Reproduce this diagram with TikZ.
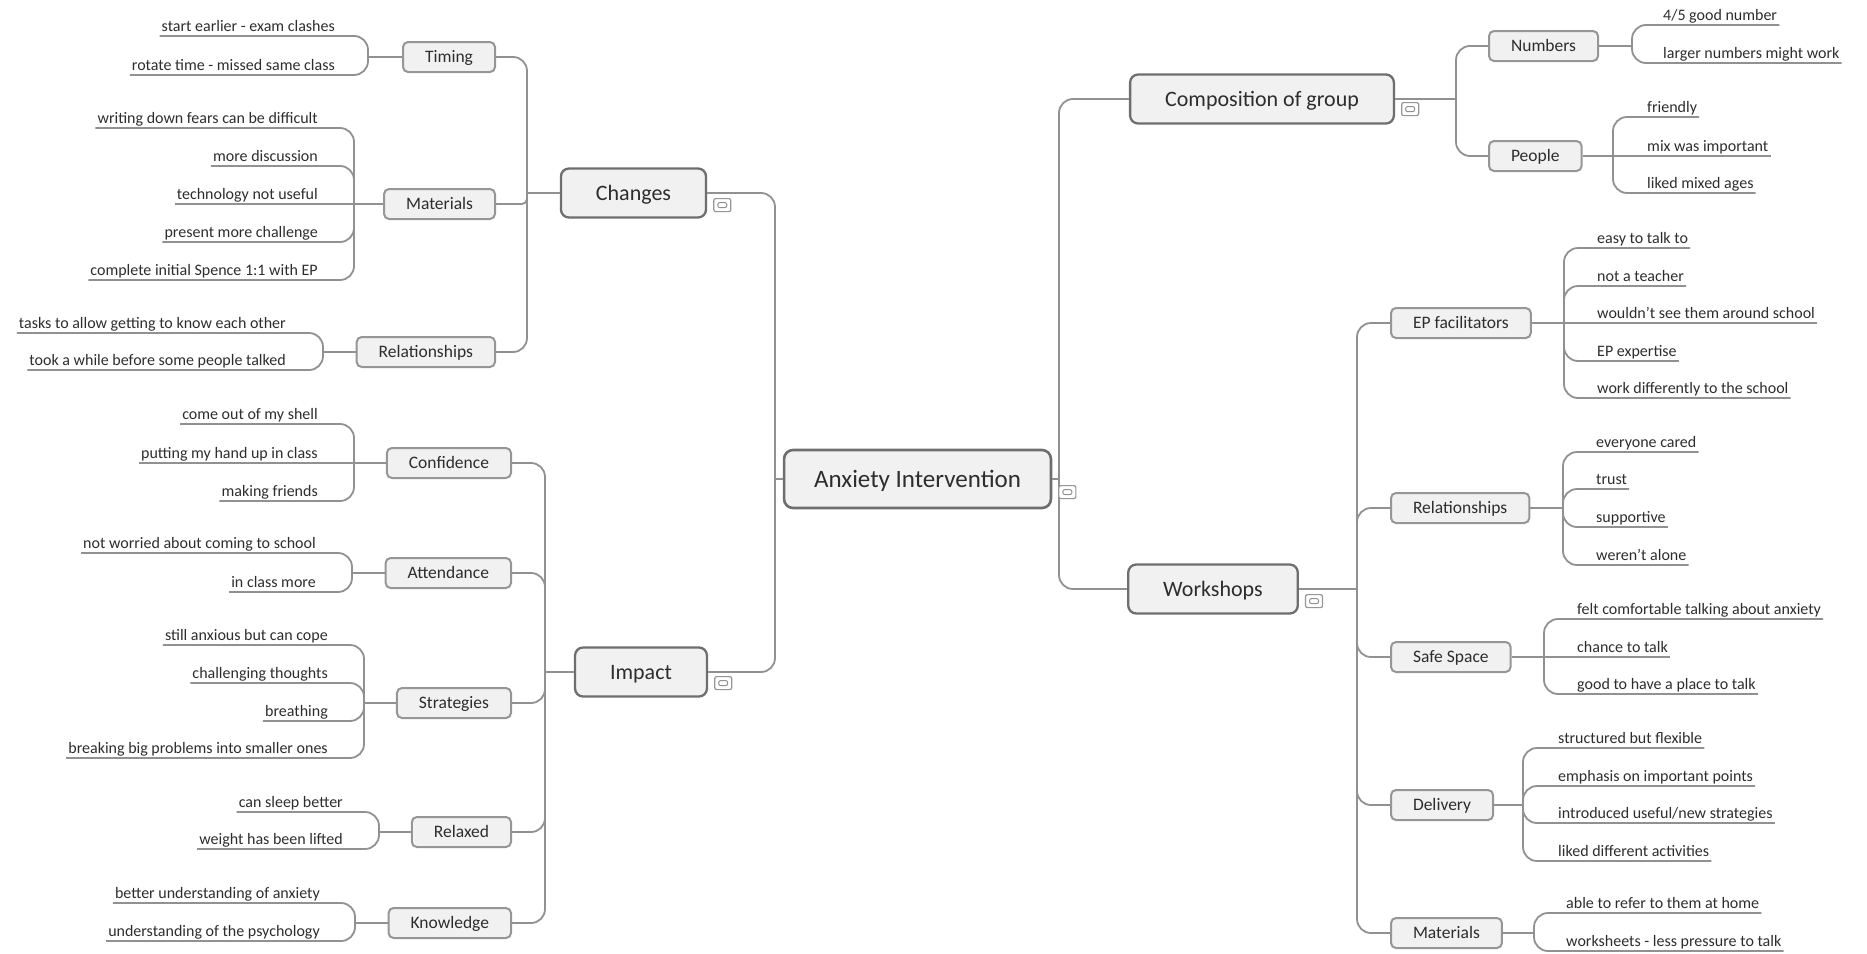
\documentclass[tikz,border=0pt]{standalone}
\usepackage{fontspec}
\setmainfont{Carlito}
\usetikzlibrary{calc}

\definecolor{linkgray}{RGB}{145,145,145}
\definecolor{edgedark}{RGB}{110,110,110}
\definecolor{edgelight}{RGB}{150,150,150}
\definecolor{topicfill}{RGB}{241,241,241}
\definecolor{inkgray}{RGB}{45,45,45}

\tikzset{
	rootbox/.style={draw=edgedark, line width=2.6pt, fill=topicfill, rounded corners=9pt, text=inkgray, font=\fontsize{25}{30}\selectfont, inner xsep=30pt, inner ysep=0pt, minimum height=58pt, text height=21pt, text depth=5pt},
	topicbox/.style={draw=edgedark, line width=2.3pt, fill=topicfill, rounded corners=8pt, text=inkgray, font=\fontsize{22}{26}\selectfont, inner xsep=35pt, inner ysep=0pt, minimum height=49pt, text height=18.6pt, text depth=4.4pt},
	subbox/.style={draw=edgelight, line width=2pt, fill=topicfill, rounded corners=5pt, text=inkgray, font=\fontsize{17.5}{21}\selectfont, inner xsep=22pt, inner ysep=0pt, minimum height=30pt, text height=14.8pt, text depth=3.5pt},
	leaf/.style={text=inkgray, font=\fontsize{16}{19}\selectfont, inner xsep=2pt, inner ysep=1.2pt, text height=12pt, text depth=3pt},
	link/.style={draw=linkgray, line width=1.8pt, rounded corners=14pt},
	fold/.style={draw=edgelight, line width=1.2pt, fill=white, rounded corners=2pt, minimum width=17pt, minimum height=13pt, inner sep=0pt, anchor=north west,
		path picture={\draw[linkgray, line width=1pt] ($(path picture bounding box.center)+(-4.5,-2.5)$) rectangle ($(path picture bounding box.center)+(4.5,2.5)$);}},
}

\begin{document}
\begin{tikzpicture}[x=1pt, y=-1pt]
			%%%%% START %%%%%
			\useasboundingbox (0,0) rectangle (1867,953);
			
			\node[rootbox] (root) at (917.5,479) {Anxiety Intervention};
			\coordinate (root-l) at (775,479);
			\coordinate (root-r) at (1059,479);
			
			\node[topicbox] (changes) at (633.5,193) {Changes};
			\node[topicbox] (impact) at (641,672) {Impact};
			\node[topicbox] (compo) at (1262,99) {Composition of group};
			\node[topicbox] (works) at (1213,589) {Workshops};
			
			\draw[link] (root.west) -- (root-l);
			\draw[link] (root-l) |- (changes.east);
			\draw[link] (root-l) |- (impact.east);
			\draw[link] (root.east) -- (root-r);
			\draw[link] (root-r) |- (compo.west);
			\draw[link] (root-r) |- (works.west);
			
			\node[fold] (root-fold) at ($(root.east)+(6,6)$) {};
			\node[fold] (changes-fold) at ($(changes.east)+(6,5)$) {};
			\node[fold] (impact-fold) at ($(impact.east)+(6,4)$) {};
			\node[fold] (compo-fold) at ($(compo.east)+(6,3)$) {};
			\node[fold] (works-fold) at ($(works.east)+(6,5)$) {};
			
			%%%%% CHANGES %%%%%
			\coordinate (changes-j) at (527,193);
			\draw[link] (changes.west) -- (changes-j);
			\node[subbox, anchor=east] (timing) at (496,57) {Timing};
			\node[subbox, anchor=east] (materials) at (496,204) {Materials};
			\node[subbox, anchor=east] (relations) at (496,352) {Relationships};
			\draw[link] (changes-j) |- (timing.east);
			\draw[link, rounded corners=5pt] (changes-j) |- (materials.east);
			\draw[link] (changes-j) |- (relations.east);
			
			\coordinate (timing-j) at (368,57);
			\draw[link] (timing.west) -- (timing-j);
			\node[leaf, anchor=south east] (timing-1) at (337,36) {start earlier - exam clashes};
			\node[leaf, anchor=south east] (timing-2) at (337,75) {rotate time - missed same class};
			\draw[link] (timing-j) |- (timing-1.south east) -- (timing-1.south west);
			\draw[link] (timing-j) |- (timing-2.south east) -- (timing-2.south west);
			
			\coordinate (materials-j) at (354,204);
			\draw[link] (materials.west) -- (materials-j);
			\node[leaf, anchor=south east] (materials-1) at (320,128) {writing down fears can be difficult};
			\node[leaf, anchor=south east] (materials-2) at (320,166) {more discussion};
			\node[leaf, anchor=south east] (materials-3) at (320,204) {technology not useful};
			\node[leaf, anchor=south east] (materials-4) at (320,242) {present more challenge};
			\node[leaf, anchor=south east] (materials-5) at (320,280) {complete initial Spence 1:1 with EP};
			\draw[link] (materials-j) |- (materials-1.south east) -- (materials-1.south west);
			\draw[link] (materials-j) |- (materials-2.south east) -- (materials-2.south west);
			\draw[link] (materials-j) -- (materials-3.south east) -- (materials-3.south west);
			\draw[link] (materials-j) |- (materials-4.south east) -- (materials-4.south west);
			\draw[link] (materials-j) |- (materials-5.south east) -- (materials-5.south west);
			
			\coordinate (relations-j) at (323,352);
			\draw[link] (relations.west) -- (relations-j);
			\node[leaf, anchor=south east] (relations-1) at (288,333) {tasks to allow getting to know each other};
			\node[leaf, anchor=south east] (relations-2) at (288,370) {took a while before some people talked};
			\draw[link] (relations-j) |- (relations-1.south east) -- (relations-1.south west);
			\draw[link] (relations-j) |- (relations-2.south east) -- (relations-2.south west);
			
			%%%%% IMPACT %%%%%
			\coordinate (impact-j) at (545,672);
			\draw[link] (impact.west) -- (impact-j);
			\node[subbox, anchor=east] (confidence) at (512,463) {Confidence};
			\node[subbox, anchor=east] (attendance) at (512,573) {Attendance};
			\node[subbox, anchor=east] (strategies) at (512,703) {Strategies};
			\node[subbox, anchor=east] (relaxed) at (512,832) {Relaxed};
			\node[subbox, anchor=east] (knowledge) at (512,923) {Knowledge};
			\draw[link] (impact-j) |- (confidence.east);
			\draw[link] (impact-j) |- (attendance.east);
			\draw[link] (impact-j) |- (strategies.east);
			\draw[link] (impact-j) |- (relaxed.east);
			\draw[link] (impact-j) |- (knowledge.east);
			
			\coordinate (confidence-j) at (354,463);
			\draw[link] (confidence.west) -- (confidence-j);
			\node[leaf, anchor=south east] (confidence-1) at (320,424) {come out of my shell};
			\node[leaf, anchor=south east] (confidence-2) at (320,463) {putting my hand up in class};
			\node[leaf, anchor=south east] (confidence-3) at (320,501) {making friends};
			\draw[link] (confidence-j) |- (confidence-1.south east) -- (confidence-1.south west);
			\draw[link] (confidence-j) -- (confidence-2.south east) -- (confidence-2.south west);
			\draw[link] (confidence-j) |- (confidence-3.south east) -- (confidence-3.south west);
			
			\coordinate (attendance-j) at (352,573);
			\draw[link] (attendance.west) -- (attendance-j);
			\node[leaf, anchor=south east] (attendance-1) at (318,553) {not worried about coming to school};
			\node[leaf, anchor=south east] (attendance-2) at (318,592) {in class more};
			\draw[link] (attendance-j) |- (attendance-1.south east) -- (attendance-1.south west);
			\draw[link] (attendance-j) |- (attendance-2.south east) -- (attendance-2.south west);
			
			\coordinate (strategies-j) at (364,703);
			\draw[link] (strategies.west) -- (strategies-j);
			\node[leaf, anchor=south east] (strategies-1) at (330,645) {still anxious but can cope};
			\node[leaf, anchor=south east] (strategies-2) at (330,683) {challenging thoughts};
			\node[leaf, anchor=south east] (strategies-3) at (330,721) {breathing};
			\node[leaf, anchor=south east] (strategies-4) at (330,758) {breaking big problems into smaller ones};
			\draw[link] (strategies-j) |- (strategies-1.south east) -- (strategies-1.south west);
			\draw[link] (strategies-j) |- (strategies-2.south east) -- (strategies-2.south west);
			\draw[link] (strategies-j) |- (strategies-3.south east) -- (strategies-3.south west);
			\draw[link] (strategies-j) |- (strategies-4.south east) -- (strategies-4.south west);
			
			\coordinate (relaxed-j) at (379,832);
			\draw[link] (relaxed.west) -- (relaxed-j);
			\node[leaf, anchor=south east] (relaxed-1) at (345,812) {can sleep better};
			\node[leaf, anchor=south east] (relaxed-2) at (345,849) {weight has been lifted};
			\draw[link] (relaxed-j) |- (relaxed-1.south east) -- (relaxed-1.south west);
			\draw[link] (relaxed-j) |- (relaxed-2.south east) -- (relaxed-2.south west);
			
			\coordinate (knowledge-j) at (355,923);
			\draw[link] (knowledge.west) -- (knowledge-j);
			\node[leaf, anchor=south east] (knowledge-1) at (322,903) {better understanding of anxiety};
			\node[leaf, anchor=south east] (knowledge-2) at (322,941) {understanding of the psychology};
			\draw[link] (knowledge-j) |- (knowledge-1.south east) -- (knowledge-1.south west);
			\draw[link] (knowledge-j) |- (knowledge-2.south east) -- (knowledge-2.south west);
			
			%%%%% COMPOSITION %%%%%
			\coordinate (compo-j) at (1456,99);
			\draw[link] (compo.east) -- (compo-j);
			\node[subbox, anchor=west] (numbers) at (1488,46) {Numbers};
			\node[subbox, anchor=west] (people) at (1488,156) {People};
			\draw[link] (compo-j) |- (numbers.west);
			\draw[link] (compo-j) |- (people.west);
			
			\coordinate (numbers-j) at (1632,46);
			\draw[link] (numbers.east) -- (numbers-j);
			\node[leaf, anchor=south west] (numbers-1) at (1661,25) {4/5 good number};
			\node[leaf, anchor=south west] (numbers-2) at (1661,63) {larger numbers might work};
			\draw[link] (numbers-j) |- (numbers-1.south west) -- (numbers-1.south east);
			\draw[link] (numbers-j) |- (numbers-2.south west) -- (numbers-2.south east);
			
			\coordinate (people-j) at (1613,156);
			\draw[link] (people.east) -- (people-j);
			\node[leaf, anchor=south west] (people-1) at (1645,117) {friendly};
			\node[leaf, anchor=south west] (people-2) at (1645,156) {mix was important};
			\node[leaf, anchor=south west] (people-3) at (1645,193) {liked mixed ages};
			\draw[link] (people-j) |- (people-1.south west) -- (people-1.south east);
			\draw[link] (people-j) -- (people-2.south west) -- (people-2.south east);
			\draw[link] (people-j) |- (people-3.south west) -- (people-3.south east);
			
			%%%%% WORKSHOPS %%%%%
			\coordinate (works-j) at (1357,589);
			\draw[link] (works.east) -- (works-j);
			\node[subbox, anchor=west] (facilitators) at (1390,323) {EP facilitators};
			\node[subbox, anchor=west] (relations2) at (1390,508) {Relationships};
			\node[subbox, anchor=west] (safe) at (1390,657) {Safe Space};
			\node[subbox, anchor=west] (delivery) at (1390,805) {Delivery};
			\node[subbox, anchor=west] (materials2) at (1390,933) {Materials};
			\draw[link] (works-j) |- (facilitators.west);
			\draw[link] (works-j) |- (relations2.west);
			\draw[link] (works-j) |- (safe.west);
			\draw[link] (works-j) |- (delivery.west);
			\draw[link] (works-j) |- (materials2.west);
			
			\coordinate (facilitators-j) at (1564,323);
			\draw[link] (facilitators.east) -- (facilitators-j);
			\node[leaf, anchor=south west] (facilitators-1) at (1595,248) {easy to talk to};
			\node[leaf, anchor=south west] (facilitators-2) at (1595,286) {not a teacher};
			\node[leaf, anchor=south west] (facilitators-3) at (1595,323) {wouldn't see them around school};
			\node[leaf, anchor=south west] (facilitators-4) at (1595,361) {EP expertise};
			\node[leaf, anchor=south west] (facilitators-5) at (1595,398) {work differently to the school};
			\draw[link] (facilitators-j) |- (facilitators-1.south west) -- (facilitators-1.south east);
			\draw[link] (facilitators-j) |- (facilitators-2.south west) -- (facilitators-2.south east);
			\draw[link] (facilitators-j) -- (facilitators-3.south west) -- (facilitators-3.south east);
			\draw[link] (facilitators-j) |- (facilitators-4.south west) -- (facilitators-4.south east);
			\draw[link] (facilitators-j) |- (facilitators-5.south west) -- (facilitators-5.south east);
			
			\coordinate (relations2-j) at (1563,508);
			\draw[link] (relations2.east) -- (relations2-j);
			\node[leaf, anchor=south west] (relations2-1) at (1594,452) {everyone cared};
			\node[leaf, anchor=south west] (relations2-2) at (1594,489) {trust};
			\node[leaf, anchor=south west] (relations2-3) at (1594,527) {supportive};
			\node[leaf, anchor=south west] (relations2-4) at (1594,565) {weren't alone};
			\draw[link] (relations2-j) |- (relations2-1.south west) -- (relations2-1.south east);
			\draw[link] (relations2-j) |- (relations2-2.south west) -- (relations2-2.south east);
			\draw[link] (relations2-j) |- (relations2-3.south west) -- (relations2-3.south east);
			\draw[link] (relations2-j) |- (relations2-4.south west) -- (relations2-4.south east);
			
			\coordinate (safe-j) at (1544,657);
			\draw[link] (safe.east) -- (safe-j);
			\node[leaf, anchor=south west] (safe-1) at (1575,619) {felt comfortable talking about anxiety};
			\node[leaf, anchor=south west] (safe-2) at (1575,657) {chance to talk};
			\node[leaf, anchor=south west] (safe-3) at (1575,694) {good to have a place to talk};
			\draw[link] (safe-j) |- (safe-1.south west) -- (safe-1.south east);
			\draw[link] (safe-j) -- (safe-2.south west) -- (safe-2.south east);
			\draw[link] (safe-j) |- (safe-3.south west) -- (safe-3.south east);
			
			\coordinate (delivery-j) at (1523,805);
			\draw[link] (delivery.east) -- (delivery-j);
			\node[leaf, anchor=south west] (delivery-1) at (1556,748) {structured but flexible};
			\node[leaf, anchor=south west] (delivery-2) at (1556,786) {emphasis on important points};
			\node[leaf, anchor=south west] (delivery-3) at (1556,823) {introduced useful/new strategies};
			\node[leaf, anchor=south west] (delivery-4) at (1556,861) {liked different activities};
			\draw[link] (delivery-j) |- (delivery-1.south west) -- (delivery-1.south east);
			\draw[link] (delivery-j) |- (delivery-2.south west) -- (delivery-2.south east);
			\draw[link] (delivery-j) |- (delivery-3.south west) -- (delivery-3.south east);
			\draw[link] (delivery-j) |- (delivery-4.south west) -- (delivery-4.south east);
			
			\coordinate (materials2-j) at (1534,933);
			\draw[link] (materials2.east) -- (materials2-j);
			\node[leaf, anchor=south west] (materials2-1) at (1564,913) {able to refer to them at home};
			\node[leaf, anchor=south west] (materials2-2) at (1564,951) {worksheets - less pressure to talk};
			\draw[link] (materials2-j) |- (materials2-1.south west) -- (materials2-1.south east);
			\draw[link] (materials2-j) |- (materials2-2.south west) -- (materials2-2.south east);
			
			%%%%% END %%%%%
\end{tikzpicture}
\end{document}
